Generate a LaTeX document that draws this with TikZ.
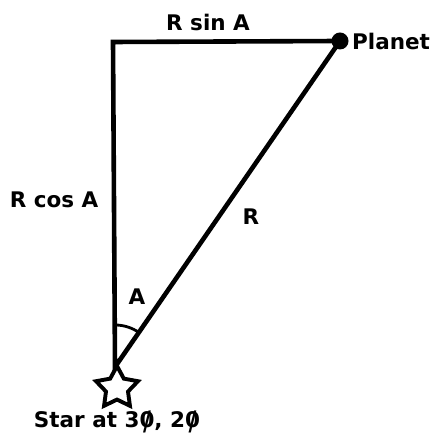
\documentclass[tikz,border=0pt]{standalone}
\usepackage{fontspec}
\setmainfont{DejaVu Sans}
\usetikzlibrary{shapes.geometric, calc}
\newcommand{\slz}{{\ooalign{0\cr\hidewidth\raisebox{-0.12em}{\scalebox{1}[1.25]{/}}\hidewidth\cr}}}

\begin{document}
\begin{tikzpicture}[x=1pt, y=1pt,
  lbl/.style={font=\bfseries\fontsize{21.5}{24}\selectfont, inner sep=0pt},
  edge/.style={line width=4.6pt}
]
\useasboundingbox (0,0) rectangle (435,441);
\coordinate (corner) at (113,399);
\node[circle, fill=black, minimum size=17pt, inner sep=0pt] (planet) at (340,400) {};
\node[star, star points=5, star point ratio=1.9, draw, line width=3.9pt,
  minimum size=44pt, inner sep=0pt] (star) at (117,53) {};
\coordinate (apex) at (115,74);
\draw[edge] (planet.center) -- (corner) -- (apex) -- (planet.center);
\draw[line width=2.8pt] ($(apex)+(90:42)$) arc[start angle=90, end angle=55, radius=42];
\node[lbl] (rsin) at (208,419) {R sin A};
\node[lbl, anchor=west] (plab) at (352,400) {Planet};
\node[lbl] (rcos) at (54,241) {R cos A};
\node[lbl] (rlab) at (251,224) {R};
\node[lbl] (alab) at (137,144) {A};
\node[lbl] (slab) at (117,19) {Star at 3\slz, 2\slz};
\end{tikzpicture}
\end{document}
